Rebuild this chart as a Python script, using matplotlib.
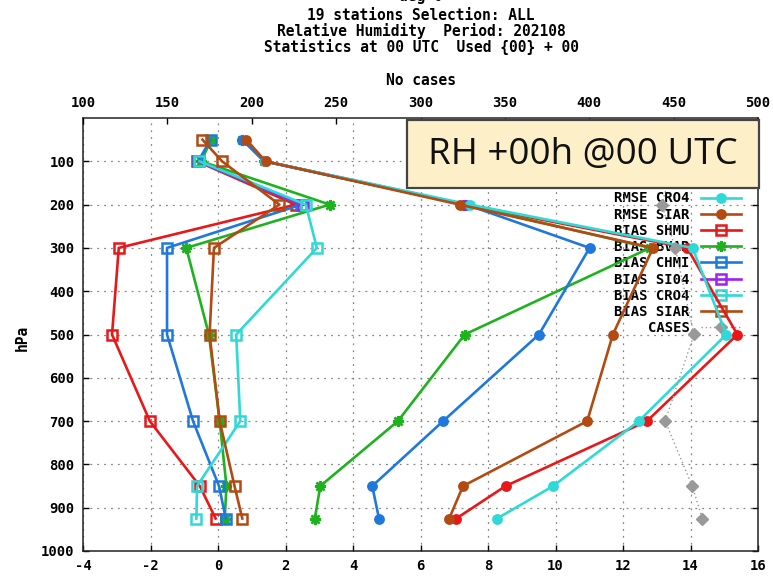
import numpy as np
import matplotlib
matplotlib.use("Agg")
import matplotlib.pyplot as plt
from matplotlib.patches import Rectangle

plt.rcParams['axes.unicode_minus'] = False
MONO = 'DejaVu Sans Mono'

# ---- data -------------------------------------------------------------
levels = [50, 100, 200, 300, 500, 700, 850, 925]
nan = np.nan

rmse_shmu = [nan, 1.40, 7.30, 13.90, 15.39, 12.71, 8.52, 7.06]
rmse_bvar = [0.72, 1.36, 7.30, 12.80, 7.31, 5.33, 3.03, 2.87]
rmse_chmi = [0.72, 1.38, 7.36, 11.01, 9.51, 6.67, 4.57, 4.77]
rmse_si04 = [nan, 1.40, 7.30, nan, nan, nan, nan, nan]
rmse_cro4 = [nan, 1.40, 7.46, 14.06, 15.06, 12.47, 9.93, 8.27]
rmse_siar = [0.84, 1.41, 7.16, 12.89, 11.70, 10.94, 7.26, 6.85]

bias_shmu = [nan, -0.62, 2.30, -2.94, -3.14, -2.02, -0.54, -0.07]
bias_bvar = [-0.20, -0.50, 3.31, -0.94, -0.27, 0.05, 0.25, 0.20]
bias_chmi = [-0.22, -0.59, 2.47, -1.51, -1.51, -0.74, 0.03, 0.23]
bias_si04 = [nan, -0.57, 2.52, nan, nan, nan, nan, nan]
bias_cro4 = [nan, -0.55, 2.60, 2.93, 0.54, 0.66, -0.62, -0.64]
bias_siar = [-0.46, 0.12, 1.82, -0.12, -0.25, 0.05, 0.49, 0.72]

cases = [440, 450, 443, 451, 462, 445, 461, 467]

stations = ['SHMU', 'BVAR', 'CHMI', 'SI04', 'CRO4', 'SIAR']
colors = ['#e81818', '#1fb21f', '#1f78dc', '#a020f0', '#30d8d8', '#b24a12']
rmse_all = [rmse_shmu, rmse_bvar, rmse_chmi, rmse_si04, rmse_cro4, rmse_siar]
bias_all = [bias_shmu, bias_bvar, bias_chmi, bias_si04, bias_cro4, bias_siar]

title_lines = ['deg 0', '19 stations Selection: ALL',
               'Relative Humidity  Period: 202108',
               'Statistics at 00 UTC  Used {00} + 00']
title_y = [-4, 15, 31, 47]

# ---- figure -----------------------------------------------------------
W, H = 773, 582
fig = plt.figure(figsize=(W / 100, H / 100), dpi=100)
fig.patch.set_facecolor('white')

left_px, right_px, top_px, bot_px = 83, 758, 118, 551
ax = fig.add_axes([left_px / W, 1 - bot_px / H,
                   (right_px - left_px) / W, (bot_px - top_px) / H])

ax.set_xlim(-4, 16)
ax.set_ylim(1000, 0)
ax.set_xticks(np.arange(-4, 17, 2))
ax.set_yticks(np.arange(100, 1001, 100))
ax.grid(True, linestyle=(0, (1.5, 4)), color='#888888', linewidth=0.9)
ax.tick_params(direction='in', length=4.5, width=1, top=True, right=True,
               labelsize=10, pad=6, colors='black')
for lab in ax.get_xticklabels() + ax.get_yticklabels():
    lab.set_fontfamily(MONO)
    lab.set_fontweight('bold')
for sp in ax.spines.values():
    sp.set_linewidth(1.1)
    sp.set_color('#222222')

handles = []
asterisk = (8, 2, 0)
lw = 1.9
for name, col, vals in zip(stations, colors, rmse_all):
    mk = asterisk if name == 'BVAR' else 'o'
    ms = 8 if name == 'BVAR' else 6
    h, = ax.plot(vals, levels, color=col, lw=lw, marker=mk, ms=ms,
                 mfc=col, mec=col, mew=1.8, zorder=3,
                 label=f'RMSE {name}')
    handles.append(h)
for name, col, vals in zip(stations, colors, bias_all):
    if name == 'BVAR':
        kw = dict(marker=asterisk, ms=8, mfc=col, mew=1.8)
    else:
        kw = dict(marker='s', ms=6.5, mfc='none', mew=1.8)
    h, = ax.plot(vals, levels, color=col, lw=lw, mec=col, zorder=3,
                 label=f'BIAS {name}', **kw)
    handles.append(h)

# number of cases on the top axis
ax2 = ax.twiny()
ax2.set_xlim(100, 500)
ax2.set_xticks(np.arange(100, 501, 50))
ax2.tick_params(direction='in', length=4.5, width=1, labelsize=10, pad=6)
for lab in ax2.get_xticklabels():
    lab.set_fontfamily(MONO)
    lab.set_fontweight('bold')
for sp in ax2.spines.values():
    sp.set_visible(False)
hc, = ax2.plot(cases, levels, color='#999999', lw=1.0, linestyle=(0, (1, 2)),
               marker='D', ms=6, mfc='#999999', mec='#999999', zorder=4,
               label='CASES')
handles.append(hc)

leg = ax.legend(handles=handles, loc='upper right', markerfirst=False,
                bbox_to_anchor=(741 / W, 1 - 126.5 / H),
                bbox_transform=fig.transFigure, frameon=False,
                borderpad=0, borderaxespad=0, labelspacing=0.16,
                handlelength=2.9, handletextpad=0.8,
                prop=dict(family=MONO, weight='bold', size=10))
leg.set_zorder(1)

# titles and axis names
cx = 421 / W
for line, y in zip(title_lines, title_y):
    fig.text(cx, 1 - y / H, line, ha='center', va='center',
             family=MONO, weight='bold', size=10.5)
fig.text(cx, 1 - 81 / H, 'No cases', ha='center', va='center',
         family=MONO, weight='bold', size=10.5)
fig.text(22 / W, 1 - 338 / H, 'hPa', rotation=90, ha='center', va='center',
         family=MONO, weight='bold', size=10.5)

# label box
bx0, bx1, by0, by1 = 407, 759, 120, 188
fig.patches.append(Rectangle((bx0 / W, 1 - by1 / H), (bx1 - bx0) / W,
                             (by1 - by0) / H, transform=fig.transFigure,
                             facecolor='#fdf0c9', edgecolor='#444444',
                             linewidth=1.6, zorder=10))
fig.text((bx0 + bx1) / 2 / W, 1 - 155 / H, 'RH +00h @00 UTC',
         ha='center', va='center', family='Open Sans', size=26.5,
         color='#111111', zorder=11)

fig.savefig('out.png', dpi=100)
